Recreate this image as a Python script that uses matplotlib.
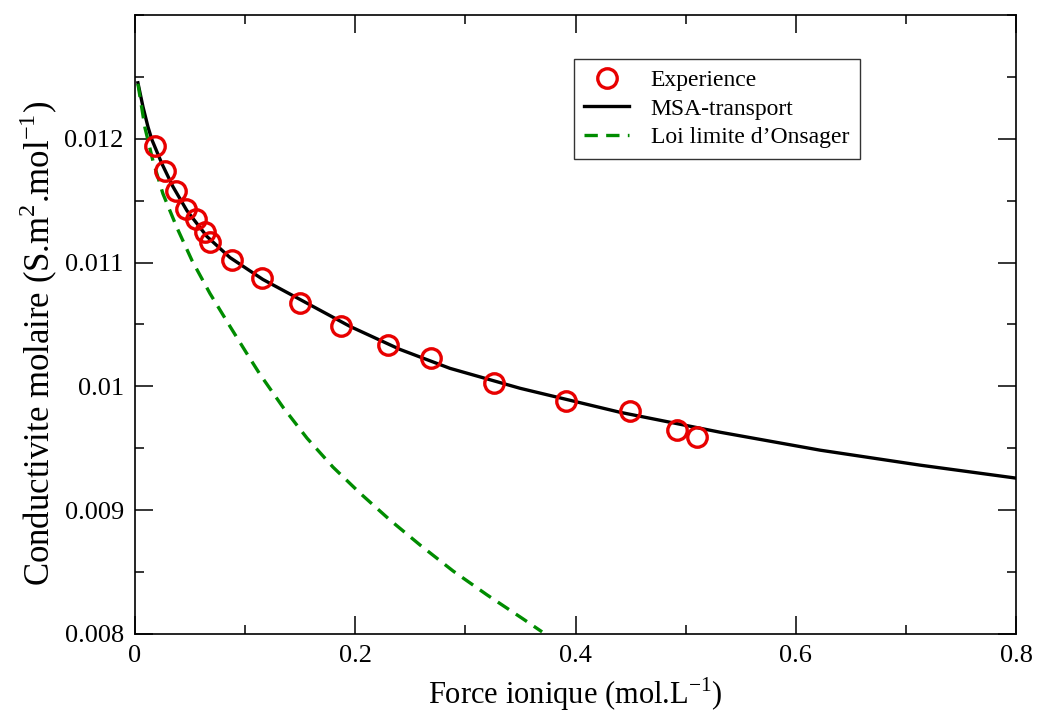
import matplotlib
matplotlib.use('Agg')
import matplotlib.pyplot as plt
from matplotlib.ticker import MultipleLocator, FixedFormatter, FixedLocator

plt.rcParams['font.family'] = ['Liberation Serif', 'DejaVu Serif']
plt.rcParams['mathtext.fontset'] = 'custom'
plt.rcParams['mathtext.rm'] = 'Liberation Serif'

# experimental points
exp_x = [0.0182, 0.0272, 0.0372, 0.0463, 0.0554, 0.0636, 0.0681, 0.0881,
         0.1153, 0.1498, 0.1871, 0.2297, 0.2688, 0.3260, 0.3914, 0.4495,
         0.4922, 0.5104]
exp_y = [0.011944, 0.011742, 0.011581, 0.011435, 0.011355, 0.011250, 0.011169,
         0.011024, 0.010879, 0.010669, 0.010484, 0.010331, 0.010226, 0.010024,
         0.009879, 0.009798, 0.009645, 0.009589]

# MSA-transport curve
msa_x = [0.0027, 0.0073, 0.0118, 0.0154, 0.0245, 0.0345, 0.0472, 0.0654,
         0.0863, 0.1162, 0.1498, 0.1952, 0.2406, 0.2860, 0.3496, 0.4404,
         0.5312, 0.6220, 0.7128, 0.8]
msa_y = [0.012452, 0.012258, 0.012097, 0.011992, 0.011798, 0.011613, 0.011419,
         0.011210, 0.011040, 0.010863, 0.010702, 0.010484, 0.010298, 0.010145,
         0.009984, 0.009790, 0.009629, 0.009484, 0.009363, 0.009258]

# Onsager limiting law
ons_x = [0.0027, 0.0091, 0.0163, 0.0254, 0.0381, 0.0518, 0.0681, 0.0863,
         0.1026, 0.1135, 0.1344, 0.1562, 0.1798, 0.2043, 0.2316, 0.2588,
         0.2888, 0.3196, 0.3523, 0.3696]
ons_y = [0.012444, 0.012089, 0.011823, 0.011556, 0.011282, 0.011016, 0.010750,
         0.010484, 0.010250, 0.010097, 0.009831, 0.009581, 0.009347, 0.009137,
         0.008919, 0.008718, 0.008508, 0.008315, 0.008121, 0.008016]

x_ticks = [0, 0.2, 0.4, 0.6, 0.8]
x_labels = ['0', '0.2', '0.4', '0.6', '0.8']
y_ticks = [0.008, 0.009, 0.010, 0.011, 0.012]
y_labels = ['0.008', '0.009', '0.01', '0.011', '0.012']

fig = plt.figure(figsize=(10.38, 7.13), dpi=100)
ax = fig.add_axes([0.130, 0.111, 0.849, 0.868])

ax.plot(exp_x, exp_y, 'o', ls='none', ms=14, mfc='none', mec='#e80000',
        mew=2.4, label='Experience', zorder=3)
ax.plot(msa_x, msa_y, '-', color='black', lw=2.4, label='MSA-transport', zorder=2)
ax.plot(ons_x, ons_y, '--', color='#008c00', lw=2.4, dashes=(4, 2.5),
        label='Loi limite d\u2019Onsager', zorder=2)

ax.set_xlim(0, 0.8)
ax.set_ylim(0.008, 0.013)
ax.xaxis.set_major_locator(FixedLocator(x_ticks))
ax.xaxis.set_major_formatter(FixedFormatter(x_labels))
ax.xaxis.set_minor_locator(MultipleLocator(0.1))
ax.yaxis.set_major_locator(FixedLocator(y_ticks))
ax.yaxis.set_major_formatter(FixedFormatter(y_labels))
ax.yaxis.set_minor_locator(MultipleLocator(0.0005))

ax.tick_params(which='both', direction='in', top=True, right=True,
               labelsize=19, width=1.1, pad=8)
ax.tick_params(which='major', length=13)
ax.tick_params(which='minor', length=6.5)
for s in ax.spines.values():
    s.set_linewidth(1.2)

ax.set_xlabel('Force ionique (mol.L$^{-1}$)', fontsize=22, labelpad=6)
ax.set_ylabel('Conductivite molaire (S.m$^{2}$.mol$^{-1}$)', fontsize=25)
ax.yaxis.set_label_coords(-0.085, 0.47)

leg = ax.legend(loc='upper left', bbox_to_anchor=(0.498, 0.929), borderaxespad=0,
                fontsize=17, frameon=True, fancybox=False, edgecolor='black',
                handlelength=1.9, handletextpad=0.9, borderpad=0.45,
                labelspacing=0.3)
leg.get_frame().set_linewidth(1.0)

fig.savefig('out.png', dpi=100)
